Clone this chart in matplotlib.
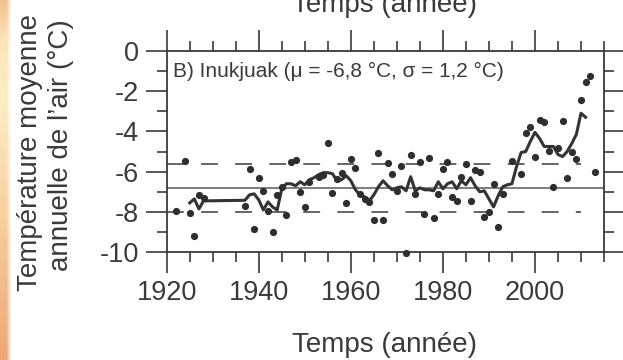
import matplotlib
matplotlib.use('Agg')
import matplotlib.pyplot as plt
import numpy as np

plt.rcParams['font.family'] = ['Liberation Sans', 'DejaVu Sans']
plt.rcParams['axes.unicode_minus'] = False

# ---------------- data ----------------
years_pts = [1922, 1924, 1925, 1926, 1927, 1928, 1937, 1938, 1939, 1940, 1941, 1942,
             1943, 1944, 1945, 1946, 1947, 1948, 1949, 1950, 1951, 1953, 1954, 1955,
             1956, 1957, 1958, 1959, 1960, 1961, 1962, 1963, 1964, 1965, 1966, 1967,
             1968, 1969, 1970, 1971, 1972, 1973, 1974, 1975, 1976, 1977, 1978, 1979,
             1980, 1981, 1982, 1983, 1984, 1985, 1986, 1987, 1988, 1989, 1990, 1991,
             1992, 1993, 1995, 1997, 1998, 1999, 2000, 2001, 2002, 2003, 2004, 2005,
             2006, 2007, 2008, 2009, 2010, 2011, 2012, 2013]
temps_pts = [-7.97, -5.46, -8.03, -9.20, -7.18, -7.33, -7.68, -5.86, -8.86, -6.32, -6.95, -7.96,
             -8.99, -7.14, -6.78, -8.16, -5.50, -5.43, -7.03, -7.76, -6.50, -6.25, -6.15, -4.60,
             -7.07, -6.37, -6.05, -7.53, -5.36, -5.81, -7.10, -7.36, -7.50, -8.42, -5.09, -8.40,
             -5.59, -6.14, -6.98, -5.73, -10.05, -5.17, -7.13, -5.51, -8.08, -5.30, -8.31, -7.13,
             -5.88, -5.54, -7.24, -7.46, -6.25, -5.64, -7.48, -5.91, -6.03, -8.23, -7.98, -6.63,
             -8.73, -7.09, -5.47, -6.12, -4.10, -3.79, -5.29, -3.42, -3.54, -4.98, -6.77, -4.84,
             -3.50, -6.30, -5.04, -5.38, -2.45, -1.57, -1.27, -6.01]

years_line = [1925, 1926, 1927, 1928, 1937, 1938, 1939, 1940, 1941, 1942, 1943, 1944,
              1945, 1946, 1947, 1948, 1949, 1950, 1951, 1952, 1953, 1954, 1955, 1956,
              1957, 1958, 1959, 1960, 1961, 1962, 1963, 1964, 1965, 1966, 1967, 1968,
              1969, 1970, 1971, 1972, 1973, 1974, 1975, 1976, 1977, 1978, 1979, 1980,
              1981, 1982, 1983, 1984, 1985, 1986, 1987, 1988, 1989, 1990, 1991, 1992,
              1993, 1994, 1995, 1996, 1997, 1998, 1999, 2000, 2001, 2002, 2003, 2004,
              2005, 2006, 2007, 2008, 2009, 2010, 2011]
temps_line = [-7.55, -7.35, -7.85, -7.45, -7.42, -7.15, -7.10, -7.40, -7.90, -7.50, -7.75, -7.90,
              -6.85, -6.60, -6.60, -6.70, -6.50, -6.65, -6.40, -6.30, -6.15, -6.05, -6.05, -6.10,
              -6.45, -6.40, -6.20, -6.45, -6.90, -7.15, -7.25, -7.45, -7.15, -6.75, -6.45, -6.70,
              -6.90, -6.80, -6.75, -6.95, -6.25, -6.95, -6.80, -6.90, -6.90, -6.95, -6.50, -6.85,
              -6.60, -6.50, -6.85, -6.45, -6.65, -6.30, -6.70, -7.00, -6.95, -7.35, -7.75, -7.20,
              -6.75, -6.65, -6.60, -5.75, -5.05, -5.00, -4.50, -4.05, -4.35, -4.75, -4.75, -4.75,
              -5.15, -5.25, -5.00, -4.60, -4.15, -3.10, -3.30]

mu = -6.8
sigma = 1.2
band_years = [1920, 2010]

xticks = [1920, 1940, 1960, 1980, 2000]
xtick_labels = ['1920', '1940', '1960', '1980', '2000']
yticks = [0, -2, -4, -6, -8, -10]
ytick_labels = ['0', '-2', '-4', '-6', '-8', '-10']

txt = '#3a3a3a'
dark = '#2e2e2e'

# ---------------- figure ----------------
W, H = 623, 360
fig = plt.figure(figsize=(W / 100, H / 100), dpi=100)
fig.patch.set_facecolor('white')

# orange slide strip at the left edge
sw = 14
bgax = fig.add_axes([0, 0, sw / W, 1], zorder=-10)
bgax.axis('off')
stops_y = np.array([0, 40, 100, 200, 360])
stops_c = np.array([[244, 192, 142], [251, 228, 182], [252, 238, 196],
                    [248, 212, 162], [240, 165, 118]]) / 255.0
yy = np.arange(H)
col = np.stack([np.interp(yy, stops_y, stops_c[:, k]) for k in range(3)], axis=1)
xx = np.arange(sw)
alpha = np.clip((11 - xx) / 5.0, 0, 1)
img = np.ones((H, sw, 3))
for i in range(sw):
    img[:, i, :] = col * alpha[i] + (1 - alpha[i])
bgax.imshow(img, aspect='auto', extent=[0, sw, H, 0])
bgax.set_xlim(0, sw)
bgax.set_ylim(H, 0)

ax = fig.add_axes([166.7 / W, 1 - 252.3 / H, (604 - 166.7) / W, (252.3 - 50.7) / H])
ax.set_facecolor('none')
ax.set_xlim(1920, 2015)
ax.set_ylim(-10, 0)

# reference lines
ax.axhline(mu, color='#7d7d7d', lw=1.4, zorder=2)
ax.plot(band_years, [mu + sigma] * 2, color='#3a3a3a', lw=1.1,
        linestyle=(0, (11.0, 11.3)), zorder=2)
ax.plot(band_years, [mu - sigma] * 2, color='#3a3a3a', lw=1.1,
        linestyle=(0, (11.0, 11.3)), zorder=2)

# running mean
ax.plot(years_line, temps_line, color='#333333', lw=2.2, zorder=3)
# annual values
ax.plot(years_pts, temps_pts, 'o', ms=5.2, color=dark, mec='none', zorder=4, clip_on=False)

ax.text(0.015, 0.871, 'B) Inukjuak (\u03bc = -6,8 \u00b0C, \u03c3 = 1,2 \u00b0C)',
        transform=ax.transAxes, fontsize=15, color=txt, va='baseline', ha='left')

# ticks
ax.set_xticks(xticks)
ax.set_xticklabels(xtick_labels)
ax.set_xticks(np.arange(1920, 2016, 5), minor=True)
ax.set_yticks(yticks)
ax.set_yticklabels(ytick_labels)
ax.set_yticks([-1, -3, -5, -7, -9], minor=True)
ax.tick_params(which='major', direction='out', length=15, width=1.2, color='#3a3a3a',
               top=True, right=True, labeltop=False, labelright=False,
               labelsize=19.5, labelcolor=txt, pad=5)
ax.tick_params(which='minor', direction='out', length=7.5, width=1.2, color='#3a3a3a',
               top=True, right=True)
for s in ax.spines.values():
    s.set_color('#3a3a3a')
    s.set_linewidth(1.3)

# axis titles
fig.text(385 / W, 1 - 351.7 / H, 'Temps (année)', ha='center', va='baseline',
         fontsize=20, color=txt)
fig.text(385 / W, 1 - 12 / H, 'Temps (année)', ha='center', va='baseline',
         fontsize=20, color=txt)
fig.text(37 / W, 1 - 152.5 / H, 'Température moyenne', rotation=90,
         rotation_mode='anchor', ha='center', va='baseline', fontsize=20, color=txt)
fig.text(68 / W, 1 - 145 / H, 'annuelle de l\u2019air (\u00b0C)', rotation=90,
         rotation_mode='anchor', ha='center', va='baseline', fontsize=20, color=txt)

fig.savefig('out.png', dpi=100)
